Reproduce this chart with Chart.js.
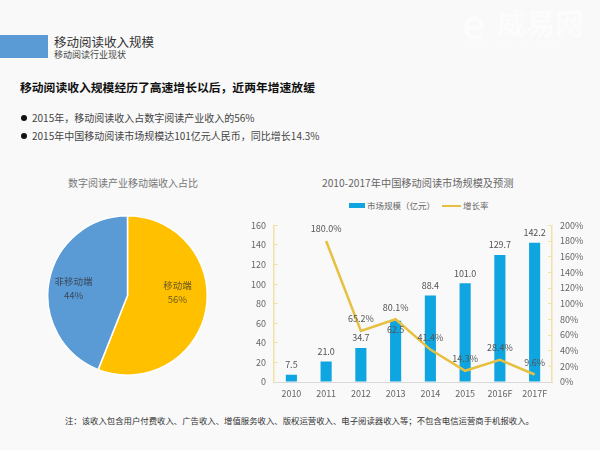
<!DOCTYPE html>
<html>
<head>
<meta charset="utf-8">
<script src="https://cdn.jsdelivr.net/npm/chart.js@4"></script>
<style>
  html, body { margin: 0; padding: 0; }
  body { width: 600px; height: 450px; background: #f9f9f9; position: relative; overflow: hidden;
         font-family: "Noto Sans CJK SC", sans-serif; color: #444; }
  .txt { position: absolute; white-space: nowrap; line-height: 1; }
  #blueBar { position: absolute; left: 0; top: 35px; width: 48px; height: 23px; background: #5b9bd5; }
  .dot { position: absolute; left: 21px; width: 6px; height: 6px; border-radius: 50%; background: #111; }
  .box { position: absolute; }
  .legendBar { position: absolute; left: 349px; top: 203px; width: 16px; height: 5px; background: #0ea5e0; }
  .legendLine { position: absolute; left: 442px; top: 205px; width: 19px; height: 2px; background: #e8c040; }
</style>
</head>
<body>
<div class="txt" style="left:462px;top:2px;font-size:40px;font-weight:bold;color:#fcfcfc">e</div>
<div class="txt" style="left:497px;top:8px;font-size:29px;font-weight:bold;color:#fcfcfc">威易网</div>
<div class="txt" style="left:462px;top:42px;font-size:8px;letter-spacing:3px;color:#fcfcfc">WWW.WEIYI.NET</div>

<div id="blueBar"></div>
<div class="txt" style="left:54px;top:36px;font-size:12.5px;color:#333">移动阅读收入规模</div>
<div class="txt" style="left:54px;top:50px;font-size:9px;color:#444">移动阅读行业现状</div>
<div class="txt" style="left:20px;top:81px;font-size:11.8px;font-weight:bold;color:#111">移动阅读收入规模经历了高速增长以后，近两年增速放缓</div>
<div class="dot" style="top:115px"></div>
<div class="txt" style="left:32px;top:113px;font-size:10px">2015年，移动阅读收入占数字阅读产业收入的56%</div>
<div class="dot" style="top:133px"></div>
<div class="txt" style="left:32px;top:131px;font-size:10px">2015年中国移动阅读市场规模达101亿元人民币，同比增长14.3%</div>

<div class="txt" style="left:68px;top:178px;font-size:10px;color:#777">数字阅读产业移动端收入占比</div>
<div class="txt" style="left:322px;top:178px;font-size:10.2px;color:#666">2010-2017年中国移动阅读市场规模及预测</div>

<div class="legendBar"></div>
<div class="txt" style="left:367px;top:201px;font-size:8.5px;color:#666">市场规模（亿元）</div>
<div class="legendLine"></div>
<div class="txt" style="left:463px;top:201px;font-size:8.5px;color:#666">增长率</div>

<div class="box" style="left:47px;top:215px;width:161px;height:161px"><canvas id="pie"></canvas></div>
<div class="box" style="left:240px;top:208px;width:360px;height:196px"><canvas id="combo"></canvas></div>

<div class="txt" style="left:65px;top:416px;font-size:8.4px;color:#333">注：该收入包含用户付费收入、广告收入、增值服务收入、版权运营收入、电子阅读器收入等；不包含电信运营商手机报收入。</div>

<script>
// Dati
const pieLabels = ['移动端', '非移动端'];
const pieValues = [56, 44];
const pieColors = ['#ffc000', '#5b9bd5'];

const years = ['2010', '2011', '2012', '2013', '2014', '2015', '2016F', '2017F'];
const marketSize = [7.5, 21.0, 34.7, 62.5, 88.4, 101.0, 129.7, 142.2];
const growthRate = [null, 180.0, 65.2, 80.1, 41.4, 14.3, 28.4, 9.6];

const fontFamily = '"Noto Sans CJK SC", sans-serif';

// etichette sulle fette
const pieLabelPlugin = {
    id: 'pieLabelPlugin',
    afterDatasetsDraw(chart) {
        const c = chart.ctx;
        c.save();
        c.font = '9.5px ' + fontFamily;
        c.textAlign = 'center';
        c.textBaseline = 'middle';
        chart.getDatasetMeta(0).data.forEach((arc, i) => {
            const mid = (arc.startAngle + arc.endAngle) / 2;
            const r = arc.outerRadius * 0.65;
            // nel riferimento le etichette non sono proprio al centro della fetta
            const x = arc.x + Math.cos(mid) * r + (i === 0 ? -1 : -3);
            const y = arc.y + Math.sin(mid) * r + (i === 0 ? -13 : 3);
            c.fillStyle = i === 0 ? '#6b5a20' : '#3a4a5c';
            c.fillText(pieLabels[i], x, y - 7);
            c.fillText(pieValues[i] + '%', x, y + 7);
        });
        c.restore();
    }
};

// etichette su barre e linea
const valueLabelPlugin = {
    id: 'valueLabelPlugin',
    afterDatasetsDraw(chart) {
        const c = chart.ctx;
        c.save();
        c.font = '9px ' + fontFamily;
        c.textAlign = 'center';
        c.textBaseline = 'middle';
        c.fillStyle = '#555';
        chart.getDatasetMeta(0).data.forEach((bar, i) => {
            // 2013 sta dentro la barra, sotto il punto della linea
            const dy = years[i] === '2013' ? 9 : -10;
            c.fillText(marketSize[i].toFixed(1), bar.x, bar.y + dy);
        });
        chart.getDatasetMeta(1).data.forEach((pt, i) => {
            if (growthRate[i] === null) return;
            c.fillText(growthRate[i].toFixed(1) + '%', pt.x, pt.y - 12);
        });
        c.restore();
    }
};

new Chart(document.getElementById('pie'), {
    type: 'pie',
    data: {
        labels: pieLabels,
        datasets: [{
            data: pieValues,
            backgroundColor: pieColors,
            borderColor: '#ffffff',
            borderWidth: 1.5
        }]
    },
    options: {
        responsive: true,
        maintainAspectRatio: false,
        animation: false,
        plugins: { legend: { display: false }, tooltip: { enabled: false } }
    },
    plugins: [pieLabelPlugin]
});

const tickFont = { family: fontFamily, size: 9 };
// tacche verso l'interno, come nel riferimento
const axisGrid = { drawOnChartArea: false, drawTicks: true, tickLength: -4, color: '#f2e2a6' };
const axisBorder = { color: '#f2e2a6', width: 1.5 };

new Chart(document.getElementById('combo'), {
    data: {
        labels: years,
        datasets: [{
            type: 'bar',
            label: '市场规模（亿元）',
            data: marketSize,
            backgroundColor: '#0ea5e0',
            categoryPercentage: 1,
            barPercentage: 0.32,
            yAxisID: 'y',
            order: 2
        }, {
            type: 'line',
            label: '增长率',
            data: growthRate,
            borderColor: '#e8c040',
            borderWidth: 2.5,
            pointRadius: 0,
            tension: 0,
            yAxisID: 'y1',
            order: 1
        }]
    },
    options: {
        responsive: true,
        maintainAspectRatio: false,
        animation: false,
        layout: { padding: { top: 8, bottom: 0, left: 0, right: 0 } },
        plugins: { legend: { display: false }, tooltip: { enabled: false } },
        scales: {
            x: {
                grid: { display: false, drawTicks: false },
                border: { color: '#d9d9d9' },
                ticks: { color: '#666', font: tickFont, maxRotation: 0, autoSkip: false, padding: 6 },
                afterFit(scale) { scale.height = 22; }
            },
            y: {
                position: 'left',
                min: 0,
                max: 160,
                grid: axisGrid,
                border: axisBorder,
                ticks: { stepSize: 20, color: '#666', font: tickFont, padding: 12 },
                afterFit(scale) { scale.width = 34; }
            },
            y1: {
                position: 'right',
                min: 0,
                max: 200,
                grid: axisGrid,
                border: axisBorder,
                ticks: { stepSize: 20, color: '#666', font: tickFont, padding: 12, callback: v => v + '%' },
                afterFit(scale) { scale.width = 48; }
            }
        }
    },
    plugins: [valueLabelPlugin]
});
</script>
</body>
</html>
